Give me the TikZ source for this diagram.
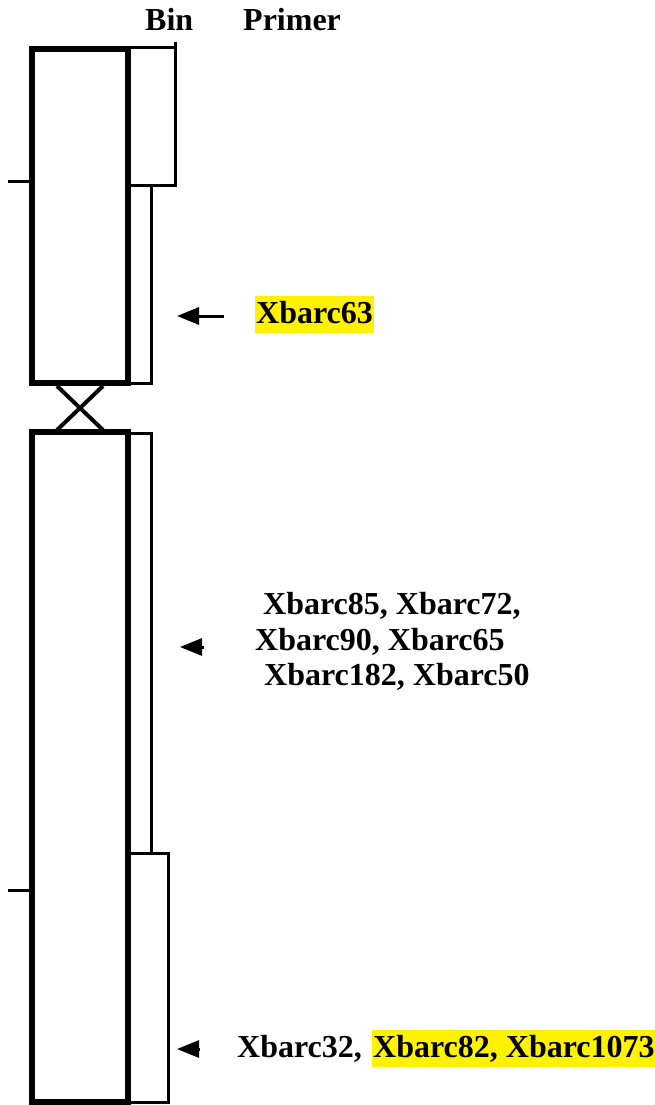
\documentclass[tikz,border=0pt]{standalone}
\usepackage{fontspec}
\setmainfont{Liberation Serif}
\usetikzlibrary{arrows.meta}
\begin{document}
\begin{tikzpicture}[x=1pt,y=-1pt,
  thickline/.style={line width=5.5pt, line join=miter},
  thinline/.style={line width=3pt},
  lbl/.style={anchor=base west, inner sep=0pt, font=\fontsize{32}{38}\selectfont\bfseries},
  hl/.style={lbl, fill=yellow, inner xsep=1pt, inner ysep=2pt, text height=25pt, text depth=8pt},
  pointer/.style={line width=3pt, -{Triangle[length=22pt,width=17pt]}}]
\useasboundingbox (0,0) rectangle (655,1105);
% chromosome arms
\draw[thickline] (32,49) rectangle (128,383);
\draw[thickline] (32,432) rectangle (128,1102);
% centromere
\draw[line width=4pt] (57,386) -- (103,430) (103,386) -- (57,430);
% ticks
\draw[thinline] (8,181) -- (32,181);
\draw[thinline] (8,890) -- (32,890);
% bins
\draw[thinline] (128,48) -- (175,48);
\draw[thinline] (175,42) -- (175,185) -- (128,185);
\draw[thinline] (151,185) -- (151,383) -- (128,383);
\draw[thinline] (128,433) -- (151,433) -- (151,853);
\draw[thinline] (128,853) -- (168,853) -- (168,1102) -- (128,1102);
% headers
\node[lbl] (bin) at (145,31) {Bin};
\node[lbl] (primer) at (243,31) {Primer};
% arrows
\coordinate (t1) at (224,316); \coordinate (h1) at (177,316);
\coordinate (t2) at (204,647); \coordinate (h2) at (180,647);
\coordinate (t3) at (200,1049); \coordinate (h3) at (177,1049);
\draw[pointer] (t1) -- (h1);
\draw[pointer] (t2) -- (h2);
\draw[pointer] (t3) -- (h3);
% labels
\node[hl] (m63) at (255,323) {Xbarc63};
\node[lbl] (m85) at (263,614) {Xbarc85, Xbarc72,};
\node[lbl] (m90) at (255,650) {Xbarc90, Xbarc65};
\node[lbl] (m182) at (264,685) {Xbarc182, Xbarc50};
\node[lbl] (m32) at (237,1057) {Xbarc32,};
\node[hl] (m82) at (372,1057) {Xbarc82, Xbarc1073};
\end{tikzpicture}
\end{document}
